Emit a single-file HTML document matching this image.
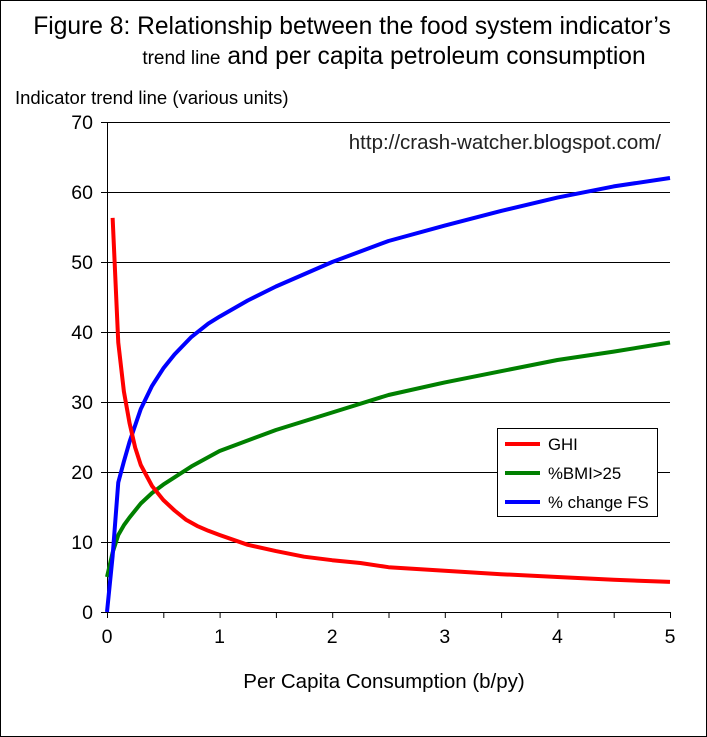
<!DOCTYPE html>
<html><head><meta charset="utf-8"><style>
body{margin:0;background:#fff;}
svg{display:block;font-family:"Liberation Sans",Arial,sans-serif;}
</style></head><body>
<svg width="707" height="737">
<rect x="0.5" y="0.5" width="706" height="736" fill="#fff" stroke="#000"/>
<text x="352" y="34" font-size="24.6" text-anchor="middle">Figure 8: Relationship between the food system indicator’s</text>
<text x="394" y="64" font-size="24.6" text-anchor="middle"><tspan font-size="19">trend line</tspan> and per capita petroleum consumption</text>
<text x="15" y="104" font-size="18.5">Indicator trend line (various units)</text>
<text x="661" y="149" font-size="20.5" text-anchor="end" fill="#222">http://crash-watcher.blogspot.com/</text>
<g id="grid"></g>
<g id="axes"></g>
<g id="series"></g>
<text x="384" y="688" font-size="20.5" text-anchor="middle">Per Capita Consumption (b/py)</text>
<g>
<rect x="497.5" y="428.5" width="160" height="88" fill="#fff" stroke="#000"/>
<g><line x1="505" y1="444" x2="540" y2="444" stroke="#f00" stroke-width="4"/><text x="548" y="450" font-size="16.8">GHI</text></g>
<g><line x1="505" y1="473" x2="540" y2="473" stroke="#008000" stroke-width="4"/><text x="548" y="479" font-size="16.8">%BMI&gt;25</text></g>
<g><line x1="505" y1="502" x2="540" y2="502" stroke="#00f" stroke-width="4"/><text x="548" y="508" font-size="16.8">% change FS</text></g>
</g>
</svg>
<script>
const xTicks=[0,1,2,3,4,5];
const yTicks=[0,10,20,30,40,50,60,70];
const ghiX=[0.05,0.1,0.15,0.2,0.25,0.3,0.4,0.5,0.6,0.7,0.8,0.9,1,1.25,1.5,1.75,2,2.25,2.5,3,3.5,4,4.5,5];
const ghiY=[56.3,38.5,31.5,27,23.5,21,18,16,14.5,13.2,12.3,11.6,11,9.6,8.7,7.9,7.4,7,6.4,5.9,5.4,5,4.6,4.3];
const bmiX=[0,0.05,0.1,0.15,0.2,0.3,0.4,0.5,0.75,1,1.5,2,2.5,3,3.5,4,4.5,5];
const bmiY=[5,8.5,11,12.4,13.5,15.5,17,18.2,20.8,23,26,28.5,31,32.8,34.4,36,37.2,38.5];
const fsX=[0,0.05,0.1,0.15,0.2,0.3,0.4,0.5,0.6,0.75,0.9,1,1.25,1.5,2,2.5,3,3.5,4,4.5,5];
const fsY=[0,8,18.5,21.5,24.3,29,32.3,34.8,36.8,39.3,41.2,42.2,44.5,46.5,50,53,55.2,57.3,59.2,60.8,62];
const NS="http://www.w3.org/2000/svg";
const X0=107,X1=670,Y0=612,Y1=122;
const sx=v=>X0+(X1-X0)*v/5, sy=v=>Y0-(Y0-Y1)*v/70;
function mk(t,a,p){const e=document.createElementNS(NS,t);for(const k in a)e.setAttribute(k,a[k]);p.appendChild(e);return e;}
const grid=document.getElementById('grid'),axes=document.getElementById('axes'),ser=document.getElementById('series');
yTicks.forEach(v=>{
 if(v>0){const g=mk('line',{x1:X0,x2:X1,y1:sy(v)+0.5,y2:sy(v)+0.5,stroke:'#000'},grid);
 
 }
 mk('line',{x1:X0-6,x2:X0,y1:sy(v)+0.5,y2:sy(v)+0.5,stroke:'#000'},axes);
 const t=mk('text',{x:X0-14,y:sy(v)+7,'font-size':19.5,'text-anchor':'end'},axes);t.textContent=v;
 
 
});
for(let i=0;i<=10;i++){mk('line',{x1:sx(i/2)+0.5,x2:sx(i/2)+0.5,y1:Y0,y2:Y0+6,stroke:'#000'},axes);}
xTicks.forEach(v=>{
 const t=mk('text',{x:sx(v),y:Y0+31,'font-size':19.5,'text-anchor':'middle'},axes);t.textContent=v;
 
 
});
mk('line',{x1:X0+0.5,x2:X0+0.5,y1:Y1,y2:Y0,stroke:'#000'},axes);
mk('line',{x1:X0,x2:X1,y1:Y0+0.5,y2:Y0+0.5,stroke:'#000'},axes);
function line(xs,ys,c,n){const p=mk('polyline',{points:xs.map((x,i)=>sx(x)+','+sy(ys[i])).join(' '),fill:'none',stroke:c,'stroke-width':4,'stroke-linejoin':'round'},ser);
 
 }
line(bmiX,bmiY,'#008000','series-bmi');
line(fsX,fsY,'#00f','series-fs');
line(ghiX,ghiY,'#f00','series-ghi');
</script>
</body></html>
